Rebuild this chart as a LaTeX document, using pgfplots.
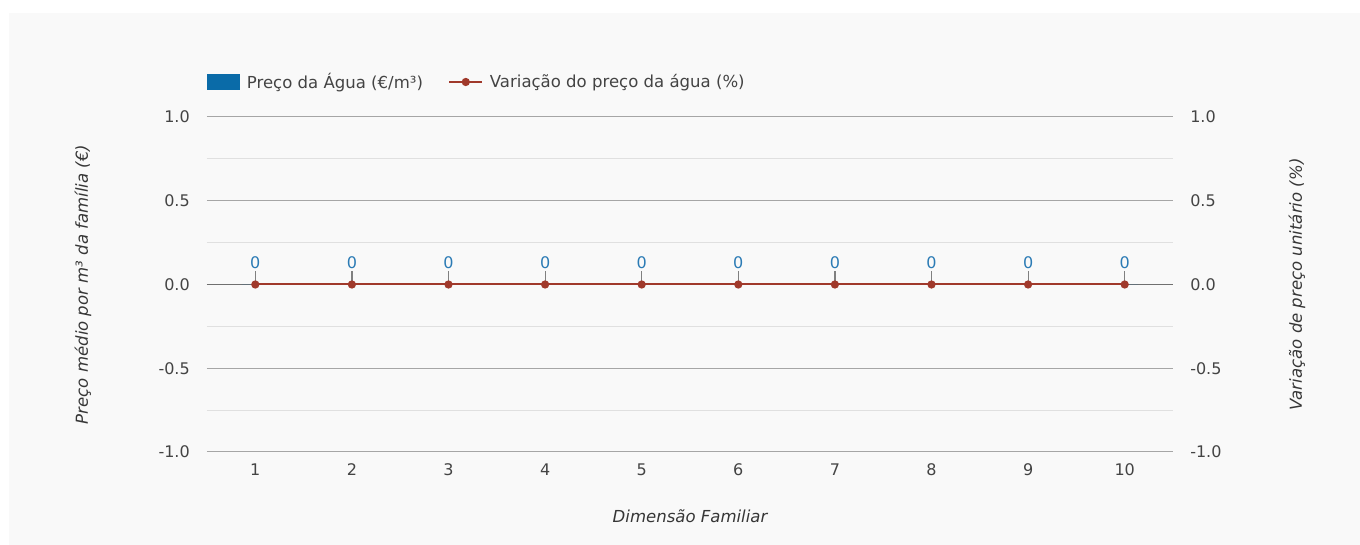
\documentclass[border=0pt]{standalone}
\usepackage{fontspec}
\setmainfont{DejaVu Sans}
\usepackage{pgfplots}
\pgfplotsset{compat=1.18}
\definecolor{panel}{HTML}{F9F9F9}
\definecolor{barblue}{HTML}{0A6BA8}
\definecolor{lblblue}{HTML}{2B7BB5}
\definecolor{linered}{HTML}{A0392B}
\definecolor{txt}{HTML}{444444}
\definecolor{majgrid}{HTML}{A6A6A6}
\definecolor{mingrid}{HTML}{E0E0E0}
\definecolor{zerogrid}{HTML}{707070}
\newcommand{\tickfont}{\fontsize{12pt}{14pt}\selectfont}
\newcommand{\labfont}{\fontsize{12.4pt}{14pt}\selectfont}
\pgfplotsset{
  barlegend/.style={legend image code/.code={\fill[barblue] (0pt,-6pt) rectangle (24.75pt,6pt);}},
  linelegend/.style={legend image code/.code={\draw[linered, line width=1.5pt] (0pt,0pt) -- (24.75pt,0pt); \fill[linered] (12.375pt,0pt) circle (2.3pt);}},
}
\begin{document}
\begin{tikzpicture}
\fill[white] (0,0) rectangle (1020pt,408.75pt);
\fill[panel] (6.75pt,0) rectangle (1020pt,399pt);
\begin{axis}[
  at={(155.25pt,69.75pt)}, anchor=south west,
  scale only axis, width=724.5pt, height=251.25pt,
  xmin=0.5, xmax=10.5, ymin=-1, ymax=1,
  axis line style={draw=none},
  major tick length=0pt, minor tick length=0pt,
  xtick={1,2,3,4,5,6,7,8,9,10},
  xticklabels={1,2,3,4,5,6,7,8,9,10},
  ytick={-1,-0.5,0,0.5,1},
  yticklabels={-1.0,-0.5,0.0,0.5,1.0},
  minor y tick num=1,
  ymajorgrids, yminorgrids,
  major grid style={color=majgrid, line width=0.75pt},
  minor grid style={color=mingrid, line width=0.75pt},
  extra y ticks={0}, extra y tick labels={},
  extra y tick style={grid=major, major grid style={color=zerogrid, line width=0.9pt}},
  tick label style={color=txt, font=\tickfont, inner sep=0pt},
  yticklabel style={anchor=east, xshift=-12.75pt},
  xticklabel style={anchor=north, yshift=-8.5pt},
  xlabel={\itshape Dimensão Familiar},
  xlabel style={at={(rel axis cs:0.5,0)}, anchor=center, yshift=-48pt, color=txt!80!black, font=\labfont},
  ylabel={\itshape Preço médio por m³ da família (€)},
  ylabel style={at={(rel axis cs:0,0.5)}, anchor=center, yshift=93pt, color=txt!80!black, font=\labfont},
  clip=false,
  legend columns=2,
  legend style={at={(rel axis cs:0,1)}, anchor=west, yshift=26.25pt, draw=none, fill=none, inner sep=0pt,
    nodes={inner sep=0pt, text=txt, font=\labfont},
    /tikz/every odd column/.append style={column sep=5pt},
    /tikz/every even column/.append style={column sep=19pt}},
]
\addplot[ybar, bar width=20pt, fill=barblue, draw=none,
  point meta=explicit symbolic,
  nodes near coords,
  every node near coord/.append style={anchor=south, inner sep=0pt, yshift=12pt, text=lblblue, font=\tickfont},
  barlegend]
coordinates {(1,0)[0] (2,0)[0] (3,0)[0] (4,0)[0] (5,0)[0] (6,0)[0] (7,0)[0] (8,0)[0] (9,0)[0] (10,0)[0]};
\addlegendentry{Preço da Água (€/m³)}
\addplot[forget plot, only marks, mark=none,
  error bars/.cd, y dir=plus, y explicit, error mark=none,
  error bar style={draw=gray, line width=0.9pt}]
coordinates {(1,0) +- (0,0.083) (2,0) +- (0,0.083) (3,0) +- (0,0.083) (4,0) +- (0,0.083) (5,0) +- (0,0.083)
 (6,0) +- (0,0.083) (7,0) +- (0,0.083) (8,0) +- (0,0.083) (9,0) +- (0,0.083) (10,0) +- (0,0.083)};
\addplot[color=linered, line width=1.5pt, mark=*, mark size=2.3pt, mark options={fill=linered, draw=linered},
  linelegend]
coordinates {(1,0) (2,0) (3,0) (4,0) (5,0) (6,0) (7,0) (8,0) (9,0) (10,0)};
\addlegendentry{Variação do preço da água (\%)}
\end{axis}
\begin{axis}[
  at={(155.25pt,69.75pt)}, anchor=south west,
  scale only axis, width=724.5pt, height=251.25pt,
  xmin=0.5, xmax=10.5, ymin=-1, ymax=1,
  hide x axis,
  axis y line*=right,
  y axis line style={draw=none},
  major tick length=0pt, minor tick length=0pt,
  ytick={-1,-0.5,0,0.5,1},
  yticklabels={-1.0,-0.5,0.0,0.5,1.0},
  tick label style={color=txt, font=\tickfont, inner sep=0pt},
  yticklabel style={anchor=west, xshift=12.75pt},
  ylabel={\itshape Variação de preço unitário (\%)},
  ylabel style={at={(rel axis cs:1,0.5)}, anchor=center, yshift=-93pt, color=txt!80!black, font=\labfont},
]
\addplot[draw=none, forget plot] coordinates {(1,0)};
\end{axis}
\end{tikzpicture}
\end{document}
